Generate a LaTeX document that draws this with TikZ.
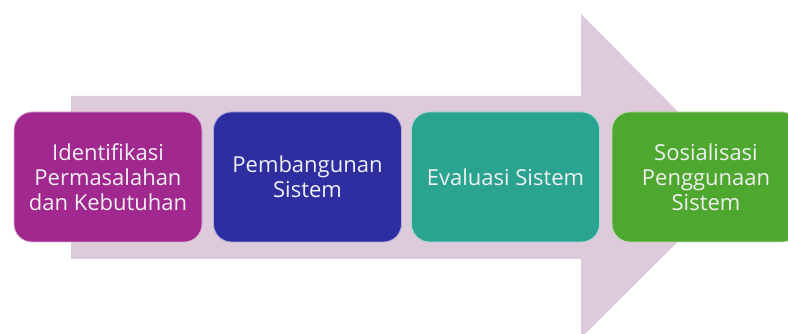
\documentclass[tikz,border=0pt]{standalone}
\usepackage{fontspec}
\setsansfont{Open Sans}
\definecolor{panah}{HTML}{DDCBDC}
\definecolor{ungu}{HTML}{A0288F}
\definecolor{biru}{HTML}{2E2EA0}
\definecolor{toska}{HTML}{2BA391}
\definecolor{hijau}{HTML}{4EA72E}
\tikzset{
  tahap/.style={draw=#1!40!white, line width=0.8pt, fill=#1, rounded corners=18pt,
    minimum width=188pt, minimum height=130pt, align=center, text=white!94!black,
    font=\sffamily\fontsize{22}{25}\selectfont, inner sep=0pt}
}
\begin{document}
\begin{tikzpicture}[x=1pt, y=1pt]
        \useasboundingbox (0,0) rectangle (788,334);
        % Big arrow behind
        \fill[panah] (71,75) -- (581,75) -- (581,-4) -- (743,157) -- (581,320)
            -- (581,238) -- (71,238) -- cycle;

        % Stages
        \node[tahap=ungu] (ident) at (108,157) {Identifikasi\\Permasalahan\\dan Kebutuhan};
        \node[tahap=biru] (bangun) at (307.5,157) {Pembangunan\\Sistem};
        \node[tahap=toska] (evaluasi) at (505.5,157) {Evaluasi Sistem};
        \node[tahap=hijau] (sosial) at (706,157) {Sosialisasi\\Penggunaan\\Sistem};
    \end{tikzpicture}
\end{document}
